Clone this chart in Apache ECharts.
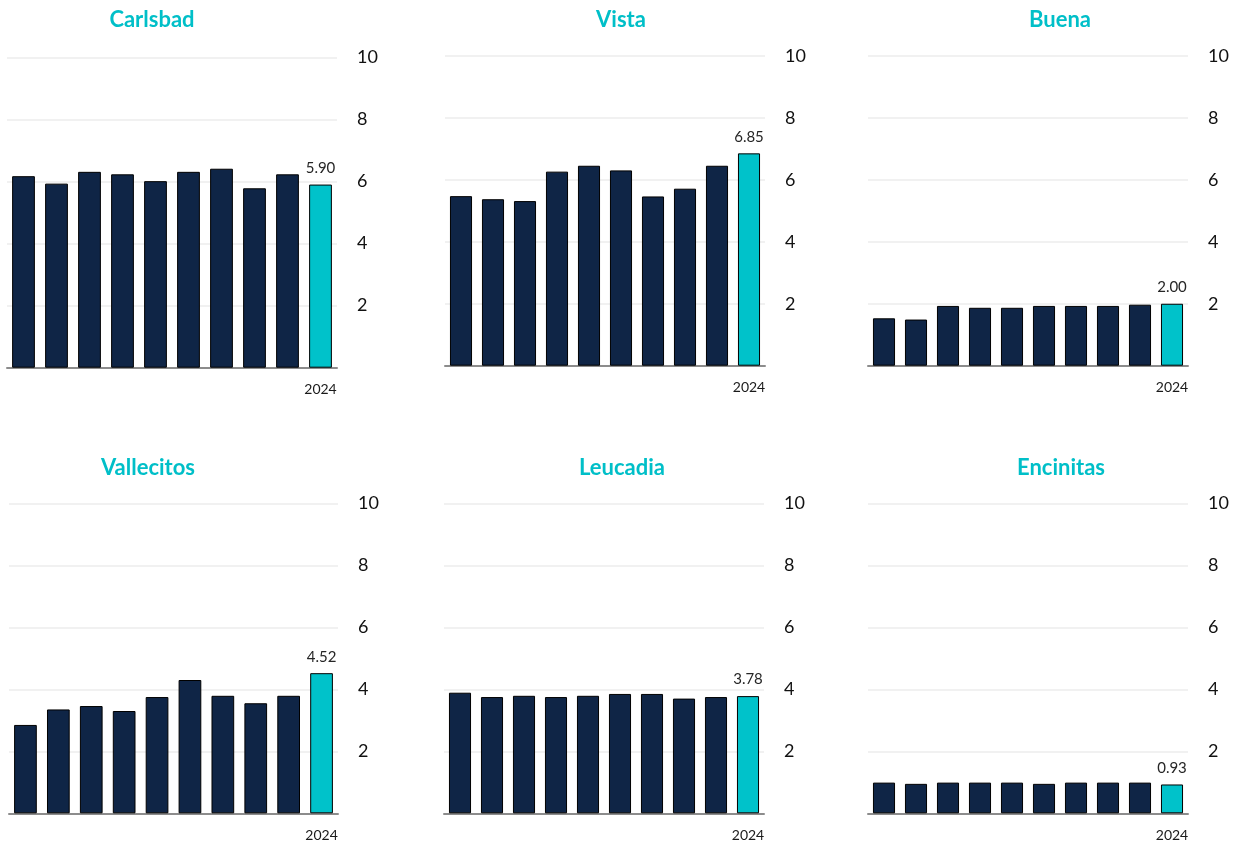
<!DOCTYPE html>
<html>
<head>
<meta charset="utf-8">
<title>Annual values by site</title>
<script src="https://cdn.jsdelivr.net/npm/echarts@6/dist/echarts.min.js"></script>
<style>
  html, body { margin: 0; padding: 0; background: #ffffff; }
  #chart { width: 1239px; height: 846px; }
</style>
</head>
<body>
<div id="chart"></div>
<script>
// Years on the category axis (only the latest one is labelled)
const years = ['2015', '2016', '2017', '2018', '2019', '2020', '2021', '2022', '2023', '2024'];

// Y-axis ticks
const yTicks = [0, 2, 4, 6, 8, 10];

// Site names, drawn as panel titles
const sites = ['Carlsbad', 'Vista', 'Buena', 'Vallecitos', 'Leucadia', 'Encinitas'];

// Yearly values per site
const carlsbad   = [6.17, 5.93, 6.31, 6.23, 6.01, 6.31, 6.41, 5.78, 6.23, 5.90];
const vista      = [5.47, 5.37, 5.31, 6.26, 6.45, 6.30, 5.46, 5.71, 6.45, 6.85];
const buena      = [1.53, 1.49, 1.93, 1.87, 1.87, 1.93, 1.93, 1.93, 1.97, 2.00];
const vallecitos = [2.85, 3.35, 3.46, 3.30, 3.75, 4.30, 3.79, 3.55, 3.79, 4.52];
const leucadia   = [3.89, 3.75, 3.79, 3.75, 3.79, 3.85, 3.85, 3.70, 3.75, 3.78];
const encinitas  = [0.99, 0.95, 0.99, 0.99, 0.99, 0.95, 0.99, 0.99, 0.99, 0.93];

const siteValues = [carlsbad, vista, buena, vallecitos, leucadia, encinitas];

// Panel placement: plot box and title centre
const panelLayout = [
  { left: 7,   top: 57.3, width: 330, height: 310.4, titleX: 147,  titleY: 4 },
  { left: 445, top: 55.7, width: 320, height: 310,   titleX: 616,  titleY: 4 },
  { left: 868, top: 56,   width: 320, height: 309.7, titleX: 1055, titleY: 4 },
  { left: 9,   top: 503.3, width: 329, height: 310,  titleX: 143,  titleY: 452 },
  { left: 444, top: 503.3, width: 320, height: 310,  titleX: 617,  titleY: 452 },
  { left: 868, top: 503.3, width: 320, height: 310,  titleX: 1056, titleY: 452 }
];

const NAVY = '#0F2546';
const CYAN = '#00C2CA';
const TITLE = '#00BFC8';
const FONT = 'Lato, "Open Sans", sans-serif';

const chart = echarts.init(document.getElementById('chart'));

const titles = [], grids = [], xAxes = [], yAxes = [], series = [];

sites.forEach((name, k) => {
  const lay = panelLayout[k];
  const vals = siteValues[k];
  const last = vals.length - 1;

  titles.push({
    text: name,
    left: lay.titleX,
    top: lay.titleY,
    textAlign: 'center',
    textStyle: { color: TITLE, fontSize: 22, fontWeight: 'bold', fontFamily: FONT }
  });

  grids.push({ left: lay.left, top: lay.top, width: lay.width, height: lay.height, containLabel: false });

  xAxes.push({
    type: 'category',
    gridIndex: k,
    data: years,
    axisLine: { show: true, lineStyle: { color: '#8c8c8c', width: 2 } },
    axisTick: { show: false },
    axisLabel: {
      interval: 0,
      margin: 15,
      fontSize: 14,
      color: '#1a1a1a',
      fontFamily: FONT,
      formatter: (v, i) => (i === last ? v : '')
    }
  });

  yAxes.push({
    type: 'value',
    gridIndex: k,
    position: 'right',
    min: yTicks[0],
    max: yTicks[yTicks.length - 1],
    interval: yTicks[1] - yTicks[0],
    axisLine: { show: false },
    axisTick: { show: false },
    splitLine: { show: true, lineStyle: { color: '#ededed', width: 1.5 } },
    axisLabel: {
      margin: 20,
      fontSize: 18,
      color: '#111',
      fontFamily: FONT,
      formatter: v => (v === 0 ? '' : String(v))
    }
  });

  series.push({
    type: 'bar',
    xAxisIndex: k,
    yAxisIndex: k,
    barCategoryGap: '31%',
    itemStyle: { color: NAVY, borderColor: '#000', borderWidth: 1 },
    data: vals.map((v, i) => i === last
      ? {
          value: v,
          itemStyle: { color: CYAN },
          label: {
            show: true,
            position: 'top',
            distance: 9,
            fontSize: 15,
            color: '#262626',
            fontFamily: FONT,
            formatter: p => p.value.toFixed(2)
          }
        }
      : v),
    animation: false
  });
});

chart.setOption({
  backgroundColor: '#ffffff',
  animation: false,
  title: titles,
  grid: grids,
  xAxis: xAxes,
  yAxis: yAxes,
  series: series
});
</script>
</body>
</html>
